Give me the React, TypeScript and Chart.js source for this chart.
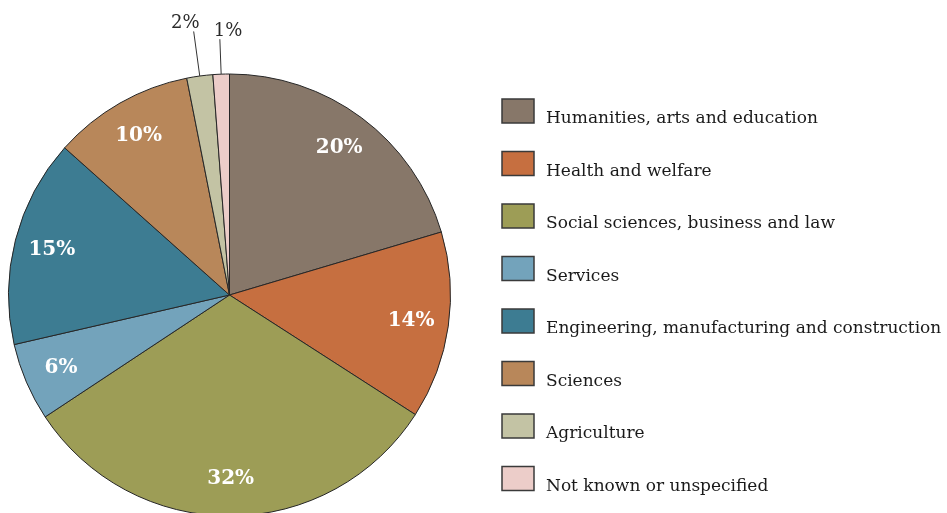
import React, { useEffect, useRef } from "react";
import { Chart, registerables } from "chart.js";

Chart.register(...registerables);

const categories = [
  "Humanities, arts and education",
  "Health and welfare",
  "Social sciences, business and law",
  "Services",
  "Engineering, manufacturing and construction",
  "Sciences",
  "Agriculture",
  "Not known or unspecified",
];

const shares = [20.4, 13.7, 31.6, 5.7, 15.2, 10.3, 1.9, 1.2];

const shareLabels = ["20%", "14%", "32%", "6%", "15%", "10%", "2%", "1%"];

const colors = [
  "#877769",
  "#c66f40",
  "#9d9d56",
  "#73a3bb",
  "#3d7c92",
  "#b8875a",
  "#c3c3a4",
  "#eccdc9",
];

const W = 947;
const H = 530;

const labelPlugin = {
  id: "sliceLabels",
  afterDatasetsDraw(chart: any) {
    const ctx = chart.ctx;
    const meta = chart.getDatasetMeta(0);
    ctx.save();
    meta.data.forEach((arc: any, i: number) => {
      const mid = (arc.startAngle + arc.endAngle) / 2;
      const R = arc.outerRadius;
      const value = shares[i];
      const text = shareLabels[i];
      if (value >= 5) {
        const r = R * 0.83;
        const x = arc.x + Math.cos(mid) * r;
        const y = arc.y + Math.sin(mid) * r;
        ctx.font = "bold 20px 'DejaVu Serif'";
        ctx.fillStyle = "#ffffff";
        ctx.textAlign = "center";
        ctx.textBaseline = "middle";
        ctx.fillText(text, x, y);
      } else {
        const even = i % 2 === 0;
        const len = even ? 45 : 35;
        const x0 = arc.x + Math.cos(mid) * R;
        const y0 = arc.y + Math.sin(mid) * R;
        const x1 = arc.x + Math.cos(mid) * (R + len);
        const y1 = arc.y + Math.sin(mid) * (R + len);
        ctx.strokeStyle = "#333333";
        ctx.lineWidth = 1;
        ctx.beginPath();
        ctx.moveTo(x0, y0);
        ctx.lineTo(x1, y1);
        ctx.stroke();
        ctx.font = "18px 'DejaVu Serif'";
        ctx.fillStyle = "#2a2a2a";
        ctx.textBaseline = "alphabetic";
        if (even) {
          ctx.textAlign = "right";
          ctx.fillText(text, x1 + 6, y1 - 3);
        } else {
          ctx.textAlign = "left";
          ctx.fillText(text, x1 - 6, y1 - 3);
        }
      }
    });
    ctx.restore();
  },
};

const legendPlugin = {
  id: "sideLegend",
  afterDraw(chart: any) {
    const ctx = chart.ctx;
    const labels = chart.data.labels as string[];
    const bg = chart.data.datasets[0].backgroundColor as string[];
    const left = 502;
    const top = 99;
    const step = 52.5;
    const bw = 32;
    const bh = 24;
    ctx.save();
    labels.forEach((lab, i) => {
      const y = top + i * step;
      ctx.fillStyle = bg[i];
      ctx.fillRect(left, y, bw, bh);
      ctx.strokeStyle = "#3a3a3a";
      ctx.lineWidth = 1.5;
      ctx.strokeRect(left, y, bw, bh);
      ctx.font = "17px 'DejaVu Serif'";
      ctx.fillStyle = "#1a1a1a";
      ctx.textAlign = "left";
      ctx.textBaseline = "alphabetic";
      ctx.fillText(lab, left + bw + 12, y + bh);
    });
    ctx.restore();
  },
};

export default function App() {
  const ref = useRef<HTMLCanvasElement>(null);
  useEffect(() => {
    if (!ref.current) return;
    const chart = new Chart(ref.current, {
      type: "pie",
      data: {
        labels: categories,
        datasets: [
          {
            data: shares,
            backgroundColor: colors,
            borderColor: "#262626",
            borderWidth: 1,
          },
        ],
      },
      options: {
        responsive: false,
        animation: false,
        layout: { padding: { left: 8, right: W - 451, top: 73.5, bottom: H - 73.5 - 443 } },
        plugins: {
          legend: { display: false },
          tooltip: { enabled: false },
        },
      },
      plugins: [labelPlugin, legendPlugin],
    });
    return () => chart.destroy();
  }, []);
  return (
    <div
      style={{
        position: "fixed",
        left: 0,
        top: 0,
        width: W,
        height: 513,
        overflow: "hidden",
        background: "#ffffff",
      }}
    >
      <canvas ref={ref} width={W} height={H} style={{ width: W, height: H, display: "block" }} />
    </div>
  );
}
